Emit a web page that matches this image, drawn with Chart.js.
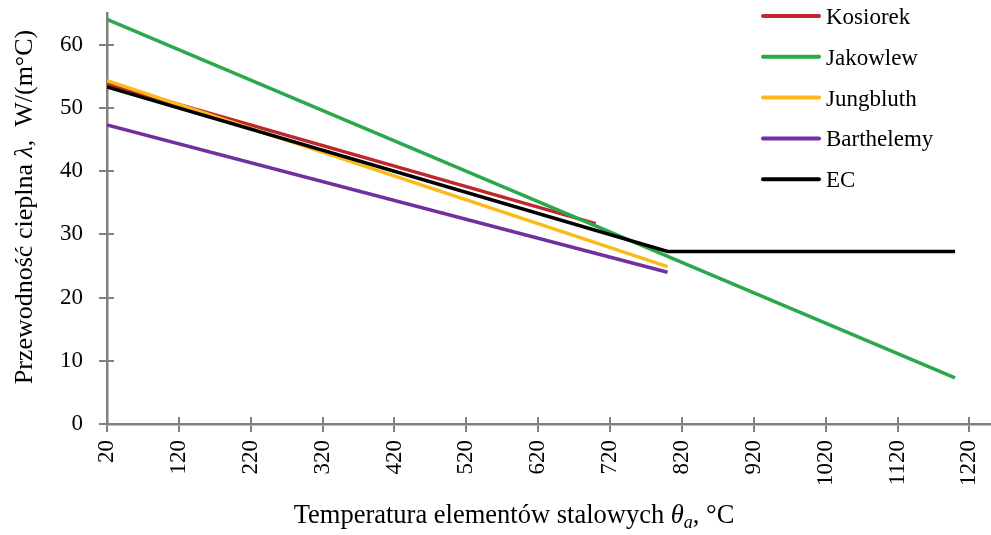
<!DOCTYPE html>
<html>
<head>
<meta charset="utf-8">
<script src="https://cdn.jsdelivr.net/npm/chart.js@4.4.1/dist/chart.umd.min.js"></script>
<style>
  html, body { margin: 0; padding: 0; background: #fff; }
  #wrap { width: 991px; height: 535px; position: relative; }
</style>
</head>
<body>
<div id="wrap"><canvas id="chart"></canvas></div>
<script>
// Temperature points (°C) and conductivity (W/(m°C)) per model
const kosiorekT = [20, 700];
const kosiorekL = [53.8, 31.7];
const jakowlewT = [20, 1200];
const jakowlewL = [64.0, 7.3];
const jungbluthT = [20, 800];
const jungbluthL = [54.3, 24.9];
const barthelemyT = [20, 800];
const barthelemyL = [47.3, 24.0];
const ecT = [20, 800, 1200];
const ecL = [53.3, 27.3, 27.3];

const seriesNames = ["Kosiorek", "Jakowlew", "Jungbluth", "Barthelemy", "EC"];
const xTicks = [20, 120, 220, 320, 420, 520, 620, 720, 820, 920, 1020, 1120, 1220];
const yTicks = [0, 10, 20, 30, 40, 50, 60];

const colors = ["#c0272d", "#2aa84a", "#fbb91a", "#7030a0", "#000000"];
const axisColor = "#808080";
const serif = "'Liberation Serif', 'DejaVu Serif', serif";

function pts(t, l) {
  return t.map((v, i) => ({ x: v, y: l[i] }));
}

const seriesData = [
  pts(kosiorekT, kosiorekL),
  pts(jakowlewT, jakowlewL),
  pts(jungbluthT, jungbluthL),
  pts(barthelemyT, barthelemyL),
  pts(ecT, ecL),
];

// later series drawn on top (lower order = on top in Chart.js)
const datasets = seriesNames.map((name, i) => ({
  label: name,
  data: seriesData[i],
  borderColor: colors[i],
  backgroundColor: colors[i],
  borderWidth: 3.5,
  pointRadius: 0,
  fill: false,
  tension: 0,
  order: seriesNames.length - i,
}));

// draws legend, axis titles and the inner half of the tick marks
const extras = {
  id: "extras",
  afterDraw(chart) {
    const ctx = chart.ctx;
    const { left, bottom } = chart.chartArea;
    const xs = chart.scales.x;
    const ys = chart.scales.y;
    ctx.save();

    ctx.strokeStyle = axisColor;
    ctx.lineWidth = 2;
    xTicks.forEach((v) => {
      const px = Math.round(xs.getPixelForValue(v));
      ctx.beginPath();
      ctx.moveTo(px, bottom);
      ctx.lineTo(px, bottom - 7);
      ctx.stroke();
    });
    yTicks.forEach((v) => {
      const py = Math.round(ys.getPixelForValue(v));
      ctx.beginPath();
      ctx.moveTo(left, py);
      ctx.lineTo(left + 7, py);
      ctx.stroke();
    });

    // legend
    ctx.lineCap = "round";
    ctx.fillStyle = "#000";
    ctx.font = "23px " + serif;
    seriesNames.forEach((name, i) => {
      const y = 16 + i * 40.8;
      ctx.strokeStyle = colors[i];
      ctx.lineWidth = 4;
      ctx.beginPath();
      ctx.moveTo(763, y);
      ctx.lineTo(819, y);
      ctx.stroke();
      ctx.textAlign = "left";
      ctx.textBaseline = "alphabetic";
      ctx.fillText(name, 826, y + 8);
    });

    // x axis title
    drawParts(ctx, [
      { t: "Temperatura elementów stalowych ", f: "26.5px " + serif, dy: 0 },
      { t: "θ", f: "italic 26.5px " + serif, dy: 0 },
      { t: "a", f: "italic 18px " + serif, dy: 5 },
      { t: ", °C", f: "26.5px " + serif, dy: 0 },
    ], 514, 523);

    // y axis title
    ctx.translate(32, 207);
    ctx.rotate(-Math.PI / 2);
    drawParts(ctx, [
      { t: "Przewodność cieplna ", f: "26px " + serif, dy: 0 },
      { t: "λ", f: "italic 26px " + serif, dy: 0 },
      { t: ",  W/(m°C)", f: "26px " + serif, dy: 0 },
    ], 0, 0);

    ctx.restore();
  },
};

function drawParts(ctx, parts, cx, baseline) {
  let total = 0;
  parts.forEach((p) => {
    ctx.font = p.f;
    p.w = ctx.measureText(p.t).width;
    total += p.w;
  });
  let x = cx - total / 2;
  ctx.fillStyle = "#000";
  ctx.textAlign = "left";
  ctx.textBaseline = "alphabetic";
  parts.forEach((p) => {
    ctx.font = p.f;
    ctx.fillText(p.t, x, baseline + p.dy);
    x += p.w;
  });
}

const ctxChart = document.getElementById("chart").getContext("2d");
new Chart(ctxChart, {
  type: "line",
  data: { datasets },
  plugins: [extras],
  options: {
    responsive: true,
    maintainAspectRatio: false,
    animation: false,
    layout: { padding: { top: 13, right: 0, left: 0, bottom: 0 } },
    plugins: {
      legend: { display: false },
      tooltip: { enabled: false },
    },
    scales: {
      x: {
        type: "linear",
        min: 20,
        max: 1250,
        afterBuildTicks: (scale) => {
          scale.ticks = xTicks.map((v) => ({ value: v }));
        },
        afterFit: (scale) => {
          scale.height = 111;
          scale.paddingLeft = 0;
          scale.paddingRight = 0;
        },
        border: { display: true, color: axisColor, width: 2.5 },
        grid: { drawOnChartArea: false, color: axisColor, lineWidth: 2, tickLength: 8 },
        ticks: {
          minRotation: 90,
          maxRotation: 90,
          padding: 8,
          autoSkip: false,
          color: "#000",
          font: { family: serif, size: 23 },
          callback: (v) => String(v),
        },
      },
      y: {
        min: 0,
        max: 65,
        afterBuildTicks: (scale) => {
          scale.ticks = yTicks.map((v) => ({ value: v }));
        },
        afterFit: (scale) => {
          scale.width = 107;
          scale.paddingTop = 0;
          scale.paddingBottom = 0;
        },
        border: { display: true, color: axisColor, width: 2.5 },
        grid: { drawOnChartArea: false, color: axisColor, lineWidth: 2, tickLength: 8 },
        ticks: {
          padding: 16,
          color: "#000",
          font: { family: serif, size: 23 },
        },
      },
    },
  },
});
</script>
</body>
</html>
